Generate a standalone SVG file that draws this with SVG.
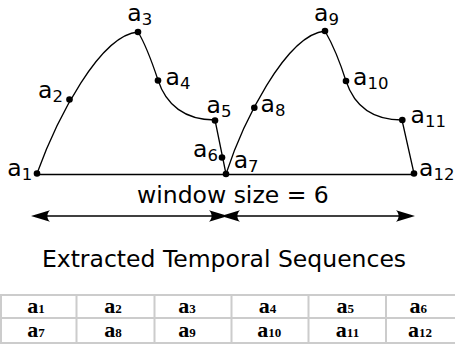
<svg xmlns="http://www.w3.org/2000/svg" width="455" height="347" viewBox="0 0 455 347">
<style>
.lbl{font-family:"DejaVu Sans",sans-serif;font-size:23.5px;fill:#000}
.sub{font-size:16.5px}
.curve{fill:none;stroke:#000;stroke-width:1.3}
.dot{fill:#000}
.arr{fill:none;stroke:#000;stroke-width:1.5}
.head{fill:#000}
.grid{stroke:#cccccc;stroke-width:2;fill:none}
.cell{font-family:"Liberation Serif",serif;font-weight:bold;font-size:22px;fill:#000}
.cs{font-size:13px}
</style>
<defs>
<path id="hl" d="M0,0 L19,-5.7 C15.5,-2.5 15.5,2.5 19,5.7 Z"/>
</defs>
<rect width="455" height="347" fill="#fff"/>
<g id="connectors">
<path class="curve" d="M37,174.5 L414,174.5"/>
<path class="curve" d="M37,173.5 C57,118 100,35 138,32 C146,45 152,62 158,80 C166,105 185,120 215,120 L226,174"/>
<path class="curve" d="M226,174 C242,125 285,35 325,31 C333,45 340,62 346,81 C354,105 372,120 402,120 L414,173.5"/>
</g>
<g id="a1"><circle class="dot" cx="37" cy="173.5" r="3.3"/><text class="lbl" x="7.3" y="176">a<tspan class="sub" dy="3.5">1</tspan></text></g>
<g id="a2"><circle class="dot" cx="69.5" cy="99.5" r="3.3"/><text class="lbl" x="38" y="98.3">a<tspan class="sub" dy="4">2</tspan></text></g>
<g id="a3"><circle class="dot" cx="138" cy="32" r="3.3"/><text class="lbl" x="127.3" y="20.7">a<tspan class="sub" dy="4">3</tspan></text></g>
<g id="a4"><circle class="dot" cx="158" cy="80.5" r="3.3"/><text class="lbl" x="165.5" y="85">a<tspan class="sub" dy="4">4</tspan></text></g>
<g id="a5"><circle class="dot" cx="215" cy="120.5" r="3.3"/><text class="lbl" x="206.5" y="112.5">a<tspan class="sub" dy="4">5</tspan></text></g>
<g id="a6"><circle class="dot" cx="222" cy="157.5" r="3.3"/><text class="lbl" x="193" y="157">a<tspan class="sub" dy="4">6</tspan></text></g>
<g id="a7"><circle class="dot" cx="226" cy="174" r="3.3"/><text class="lbl" x="233.7" y="167.5">a<tspan class="sub" dy="4">7</tspan></text></g>
<g id="a8"><circle class="dot" cx="254.3" cy="107.7" r="3.3"/><text class="lbl" x="260.5" y="112.3">a<tspan class="sub" dy="4">8</tspan></text></g>
<g id="a9"><circle class="dot" cx="325" cy="31" r="3.3"/><text class="lbl" x="314" y="20.7">a<tspan class="sub" dy="4">9</tspan></text></g>
<g id="a10"><circle class="dot" cx="346" cy="81" r="3.3"/><text class="lbl" x="353" y="85">a<tspan class="sub" dy="4">10</tspan></text></g>
<g id="a11"><circle class="dot" cx="402.3" cy="120" r="3.3"/><text class="lbl" x="410.5" y="123.3">a<tspan class="sub" dy="4">11</tspan></text></g>
<g id="a12"><circle class="dot" cx="414" cy="173.5" r="3.3"/><text class="lbl" x="419" y="176">a<tspan class="sub" dy="4">12</tspan></text></g>
<g id="window">
<text class="lbl" x="137" y="202.5">window size = 6</text>
<path class="arr" d="M35,216 L224,216"/>
<use href="#hl" class="head" transform="translate(31,216)"/>
<use href="#hl" class="head" transform="translate(228,216) rotate(180)"/>
<path class="arr" d="M225,216 L411,216"/>
<use href="#hl" class="head" transform="translate(221,216)"/>
<use href="#hl" class="head" transform="translate(415,216) rotate(180)"/>
</g>
<text id="title" class="lbl" x="224" y="267.3" text-anchor="middle">Extracted Temporal Sequences</text>
<g id="table">
<path class="grid" d="M0,295 H455 M0,318 H455 M0,343 H455 M1,295 V343 M76.5,295 V343 M154.5,295 V343 M231.5,295 V343 M308.5,295 V343 M386,295 V343"/>
<g class="cell" text-anchor="middle">
<text x="36" y="313.3">a<tspan class="cs">1</tspan></text>
<text x="113" y="313.3">a<tspan class="cs">2</tspan></text>
<text x="187" y="313.3">a<tspan class="cs">3</tspan></text>
<text x="267.5" y="313.3">a<tspan class="cs">4</tspan></text>
<text x="345.3" y="313.3">a<tspan class="cs">5</tspan></text>
<text x="418.2" y="313.3">a<tspan class="cs">6</tspan></text>
<text x="36" y="336.7">a<tspan class="cs">7</tspan></text>
<text x="113" y="336.7">a<tspan class="cs">8</tspan></text>
<text x="187" y="336.7">a<tspan class="cs">9</tspan></text>
<text x="269.3" y="336.7">a<tspan class="cs">10</tspan></text>
<text x="347.5" y="336.7">a<tspan class="cs">11</tspan></text>
<text x="420" y="336.7">a<tspan class="cs">12</tspan></text>
</g>
</g>
</svg>
